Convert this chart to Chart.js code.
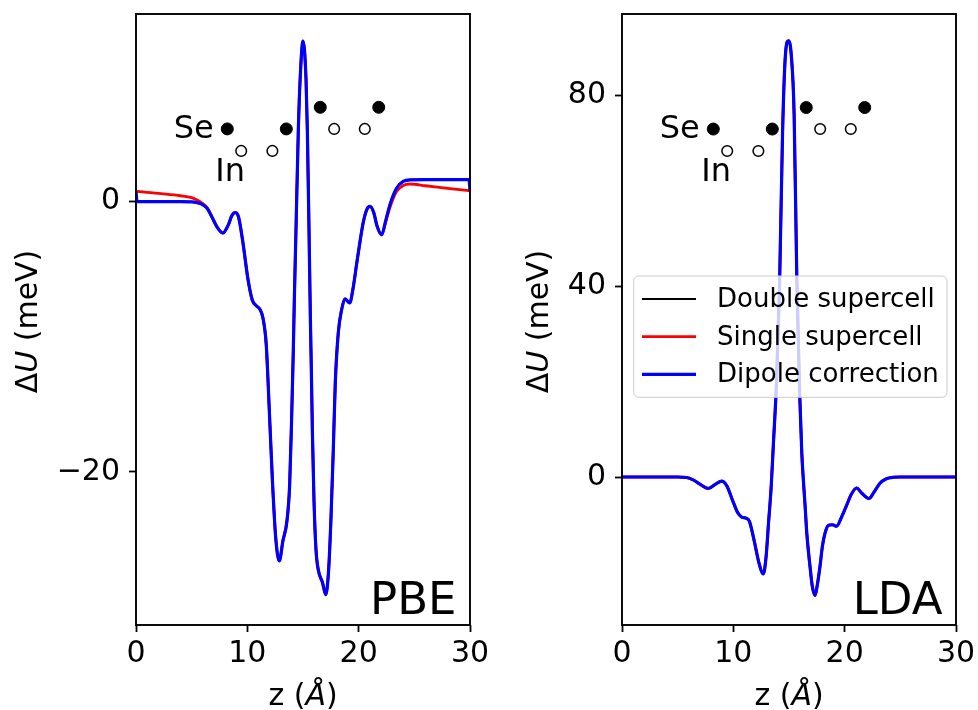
<!DOCTYPE html>
<html>
<head>
<meta charset="utf-8">
<script src="https://cdn.jsdelivr.net/npm/chart.js@4/dist/chart.umd.min.js"></script>
<style>
body { margin: 0; background: #fff; }
#wrap { position: relative; width: 978px; height: 710px; overflow: hidden; }
canvas { position: absolute; top: 0; }
</style>
</head>
<body>
<div id="wrap">
<canvas id="pbe" width="500" height="710" style="left:0"></canvas>
<canvas id="lda" width="500" height="710" style="left:478px"></canvas>
</div>
<script>
const FONT = '"DejaVu Sans", sans-serif';
Chart.defaults.font.family = FONT;
Chart.defaults.color = '#000';

const xTicks = [0, 10, 20, 30];
const pbeTicks = [-20, 0];
const ldaTicks = [0, 40, 80];

// PBE potential difference along z
const zPBE = [0, 0.1, 2, 4, 5.0, 5.5, 5.9, 6.4, 6.8, 7.3, 7.8, 8.3, 8.6, 8.9, 9.2, 9.6,
  10.05, 10.45, 10.8, 11.15, 11.4, 11.7, 11.95, 12.25, 12.55, 12.87, 13.2, 13.55, 13.8, 13.98,
  14.13, 14.22, 14.37, 14.58, 14.75, 15.0, 15.27, 15.39, 15.54, 15.66, 15.75, 15.85, 15.99,
  16.17, 16.38, 16.75, 17.04, 17.3, 17.52, 17.72, 17.9, 18.17, 18.47, 18.77, 19.2, 19.5,
  19.82, 20.15, 20.42, 20.75, 21.02, 21.35, 21.65, 22.07, 22.4, 22.8, 23.4, 24.0, 24.6,
  26, 28, 29.9, 30];
const pbeDipole = [0.76, 0, 0, 0, -0.02, -0.08, -0.18, -0.5, -1.1, -1.9, -2.32, -1.7, -1.05, -0.8, -1.1, -3.0,
  -5.7, -7.3, -7.7, -8.0, -8.6, -10.6, -15.0, -20.6, -24.9, -26.6, -25.1, -23.7, -21.0, -16.0,
  -11.0, -7.3, -2.1, 5.3, 9.2, 11.9, 9.1, 5.3, -2.1, -8.5, -12.5, -17.3, -22.2,
  -25.8, -27.3, -28.2, -29.1, -27.3, -23.3, -18.4, -13.4, -9.7, -8.0, -7.2, -7.5, -6.4,
  -4.6, -2.8, -1.5, -0.55, -0.35, -0.8, -1.8, -2.45, -1.5, -0.24, 1.0, 1.5, 1.62,
  1.63, 1.63, 1.63, 0.82];
const pbeSingle = [0.78, 0.77, 0.61, 0.44, 0.3, 0.12, -0.08, -0.45, -1.1, -1.9, -2.32, -1.7, -1.05, -0.8, -1.1, -3.0,
  -5.7, -7.3, -7.7, -8.0, -8.6, -10.6, -15.0, -20.6, -24.9, -26.6, -25.1, -23.7, -21.0, -16.0,
  -11.0, -7.3, -2.1, 5.3, 9.2, 11.9, 9.1, 5.3, -2.1, -8.5, -12.5, -17.3, -22.2,
  -25.8, -27.3, -28.2, -29.1, -27.3, -23.3, -18.4, -13.4, -9.7, -8.0, -7.2, -7.5, -6.4,
  -4.6, -2.8, -1.5, -0.55, -0.35, -0.8, -1.8, -2.45, -1.6, -0.45, 0.75, 1.2, 1.31,
  1.18, 0.99, 0.82, 0.81];
const pbeDouble = [0, 0, 0, 0, -0.02, -0.08, -0.18, -0.5, -1.1, -1.9, -2.32, -1.7, -1.05, -0.8, -1.1, -3.0,
  -5.7, -7.3, -7.7, -8.0, -8.6, -10.6, -15.0, -20.6, -24.9, -26.6, -25.1, -23.7, -21.0, -16.0,
  -11.0, -7.3, -2.1, 5.3, 9.2, 11.9, 9.1, 5.3, -2.1, -8.5, -12.5, -17.3, -22.2,
  -25.8, -27.3, -28.2, -29.1, -27.3, -23.3, -18.4, -13.4, -9.7, -8.0, -7.2, -7.5, -6.4,
  -4.6, -2.8, -1.5, -0.55, -0.35, -0.8, -1.8, -2.45, -1.5, -0.24, 1.0, 1.5, 1.62,
  1.63, 1.63, 1.63, 1.63];

// LDA potential difference along z
const zLDA = [0, 5.0, 5.8, 6.4, 7.0, 7.75, 8.4, 8.95, 9.4, 10.0, 10.4, 10.75, 11.1, 11.43, 11.86,
  12.3, 12.69, 12.95, 13.15, 13.4, 13.6, 13.88, 14.15, 14.42, 14.68, 14.95, 15.2, 15.46, 15.7,
  15.95, 16.15, 16.3, 16.45, 16.6, 16.89, 17.1, 17.34, 17.55, 17.78, 18.0, 18.23, 18.55, 18.9,
  19.28, 19.7, 20.18, 20.6, 21.08, 21.5, 22.19, 22.6, 23.17, 23.7, 24.4, 25, 30];
const ldaDipole = [0, 0, -0.1, -0.6, -1.5, -2.4, -1.5, -0.85, -1.8, -5.3, -7.5, -8.4, -8.6, -9.2, -13.2,
  -18.0, -20.3, -16.5, -10.0, -2.0, 7.0, 20.0, 40.0, 72.0, 88.5, 91.4, 88.5, 76.0, 42.0,
  18.0, 5.0, -1.0, -6.2, -11.8, -18.8, -23.0, -24.8, -22.5, -18.8, -14.5, -11.8, -10.1, -10.0,
  -10.3, -8.5, -5.9, -3.6, -2.3, -3.3, -4.5, -3.3, -1.3, -0.4, -0.05, 0, 0];
const ldaSingle = ldaDipole.slice();
const ldaDouble = ldaDipole.slice();

// atom sketch: Se (filled) and In (open) positions
const seZ = [8.2, 13.5, 16.55, 21.8];
const inZ = [9.45, 12.25, 17.8, 20.55];
const sePBE = [5.39, 5.39, 6.99, 6.99];
const inPBE = [3.76, 3.76, 5.39, 5.39];
const seLDA = [72.9, 72.9, 77.4, 77.4];
const inLDA = [68.3, 68.3, 72.9, 72.9];

const pairs = (xs, ys) => xs.map((x, i) => ({x: x, y: ys[i]}));
const fmt = v => v < 0 ? '\u2212' + Math.abs(v) : String(v);

// draw a string made of upright / italic pieces, centred on x
function mixed(ctx, parts, x, y, size) {
  let widths = parts.map(p => {
    ctx.font = (p[1] ? 'italic ' : '') + size + 'px ' + FONT;
    return ctx.measureText(p[0]).width;
  });
  let pos = x - widths.reduce((a, b) => a + b, 0) / 2;
  ctx.textAlign = 'left';
  ctx.textBaseline = 'alphabetic';
  parts.forEach((p, i) => {
    ctx.font = (p[1] ? 'italic ' : '') + size + 'px ' + FONT;
    ctx.fillText(p[0], pos, y);
    pos += widths[i];
  });
}

const decor = {
  id: 'decor',
  afterDatasetsDraw(chart, args, opts) {
    let ctx = chart.ctx, a = chart.chartArea;
    let se = chart.getDatasetMeta(3).data[0];
    let inn = chart.getDatasetMeta(4).data[0];
    ctx.save();
    ctx.fillStyle = '#000';
    ctx.textAlign = 'right';
    ctx.textBaseline = 'alphabetic';
    ctx.font = '32px ' + FONT;
    ctx.fillText('Se', se.x - 13.5, se.y + 9);
    ctx.fillText('In', inn.x + 3.7, inn.y + 30.5);
    ctx.font = '45px ' + FONT;
    ctx.fillText(opts.tag, a.right - 13.5, a.bottom - 11.5);

    if (opts.legend) {
      let x0 = a.left + 11.7, y0 = a.top + 262, w = 313.3, h = 121.3;
      ctx.beginPath();
      ctx.roundRect(x0, y0, w, h, 5);
      ctx.fillStyle = 'rgba(255,255,255,0.8)';
      ctx.fill();
      ctx.strokeStyle = '#cccccc';
      ctx.lineWidth = 1;
      ctx.stroke();
      ctx.font = '26px ' + FONT;
      ctx.textAlign = 'left';
      chart.data.datasets.slice(0, 3).forEach((ds, i) => {
        let y = y0 + 23 + i * 37.7;
        ctx.beginPath();
        ctx.moveTo(x0 + 8.3, y);
        ctx.lineTo(x0 + 62.3, y);
        ctx.strokeStyle = ds.borderColor;
        ctx.lineWidth = ds.borderWidth;
        ctx.stroke();
        ctx.fillStyle = '#000';
        ctx.fillText(ds.label, x0 + 83.3, y + 8);
      });
    }
    ctx.restore();
  },
  afterDraw(chart, args, opts) {
    let ctx = chart.ctx, a = chart.chartArea;
    ctx.save();
    ctx.strokeStyle = '#000';
    ctx.lineWidth = 1.9;
    ctx.strokeRect(a.left, a.top, a.right - a.left, a.bottom - a.top);
    ctx.fillStyle = '#000';
    mixed(ctx, [['z (', false], ['\u00c5', true], [')', false]], (a.left + a.right) / 2, a.bottom + 80, 30);
    ctx.font = '30px ' + FONT;
    let widest = Math.max(...opts.ticks.map(v => ctx.measureText(fmt(v)).width));
    ctx.translate(a.left - 16 - widest - 20, (a.top + a.bottom) / 2 + 2);
    ctx.rotate(-Math.PI / 2);
    mixed(ctx, [['\u0394', false], ['U', true], [' (meV)', false]], 0, 0, 30);
    ctx.restore();
  }
};

function panel(id, z, dbl, sgl, dip, se, inn, yMin, yMax, yTicks, tag, legend, axisW, padRight) {
  let tickGrid = {drawOnChartArea: false, drawTicks: true, tickLength: 7, tickWidth: 1.8, tickColor: '#000'};
  return new Chart(document.getElementById(id), {
    type: 'line',
    data: {
      datasets: [
        {label: 'Double supercell', data: pairs(z, dbl), borderColor: '#000', borderWidth: 2.2, order: 3},
        {label: 'Single supercell', data: pairs(z, sgl), borderColor: '#ff0000', borderWidth: 2.8, order: 2},
        {label: 'Dipole correction', data: pairs(z, dip), borderColor: '#0000ff', borderWidth: 3.2, order: 1},
        {label: 'Se', type: 'scatter', data: pairs(seZ, se), pointRadius: 6, pointBackgroundColor: '#000',
          pointBorderColor: '#000', pointBorderWidth: 1, order: 0},
        {label: 'In', type: 'scatter', data: pairs(inZ, inn), pointRadius: 5.3, pointBackgroundColor: '#fff',
          pointBorderColor: '#000', pointBorderWidth: 1.5, order: 0}
      ]
    },
    options: {
      responsive: false,
      animation: false,
      events: [],
      elements: {
        line: {fill: false, cubicInterpolationMode: 'monotone', borderJoinStyle: 'round'},
        point: {radius: 0}
      },
      layout: {padding: {top: 14, right: padRight, left: 0, bottom: 0}},
      plugins: {
        legend: {display: false},
        tooltip: {enabled: false},
        decor: {tag: tag, legend: legend, ticks: yTicks}
      },
      scales: {
        x: {
          type: 'linear', min: 0, max: 30,
          afterBuildTicks: s => { s.ticks = xTicks.map(v => ({value: v})); },
          afterFit: s => { s.height = 85; s.paddingLeft = 0; s.paddingRight = 0; },
          grid: tickGrid,
          border: {display: false},
          ticks: {font: {size: 30}, padding: 4, maxRotation: 0, callback: fmt}
        },
        y: {
          type: 'linear', min: yMin, max: yMax,
          afterBuildTicks: s => { s.ticks = yTicks.map(v => ({value: v})); },
          afterFit: s => { s.width = axisW; s.paddingTop = 0; s.paddingBottom = 0; },
          grid: tickGrid,
          border: {display: false},
          ticks: {font: {size: 30}, padding: 9, callback: fmt}
        }
      }
    },
    plugins: [decor]
  });
}

panel('pbe', zPBE, pbeDouble, pbeSingle, pbeDipole, sePBE, inPBE, -31.35, 13.9, pbeTicks, 'PBE', false, 136, 30);
panel('lda', zLDA, ldaDouble, ldaSingle, ldaDipole, seLDA, inLDA, -31.0, 97.0, ldaTicks, 'LDA', true, 144, 22);
</script>
</body>
</html>
